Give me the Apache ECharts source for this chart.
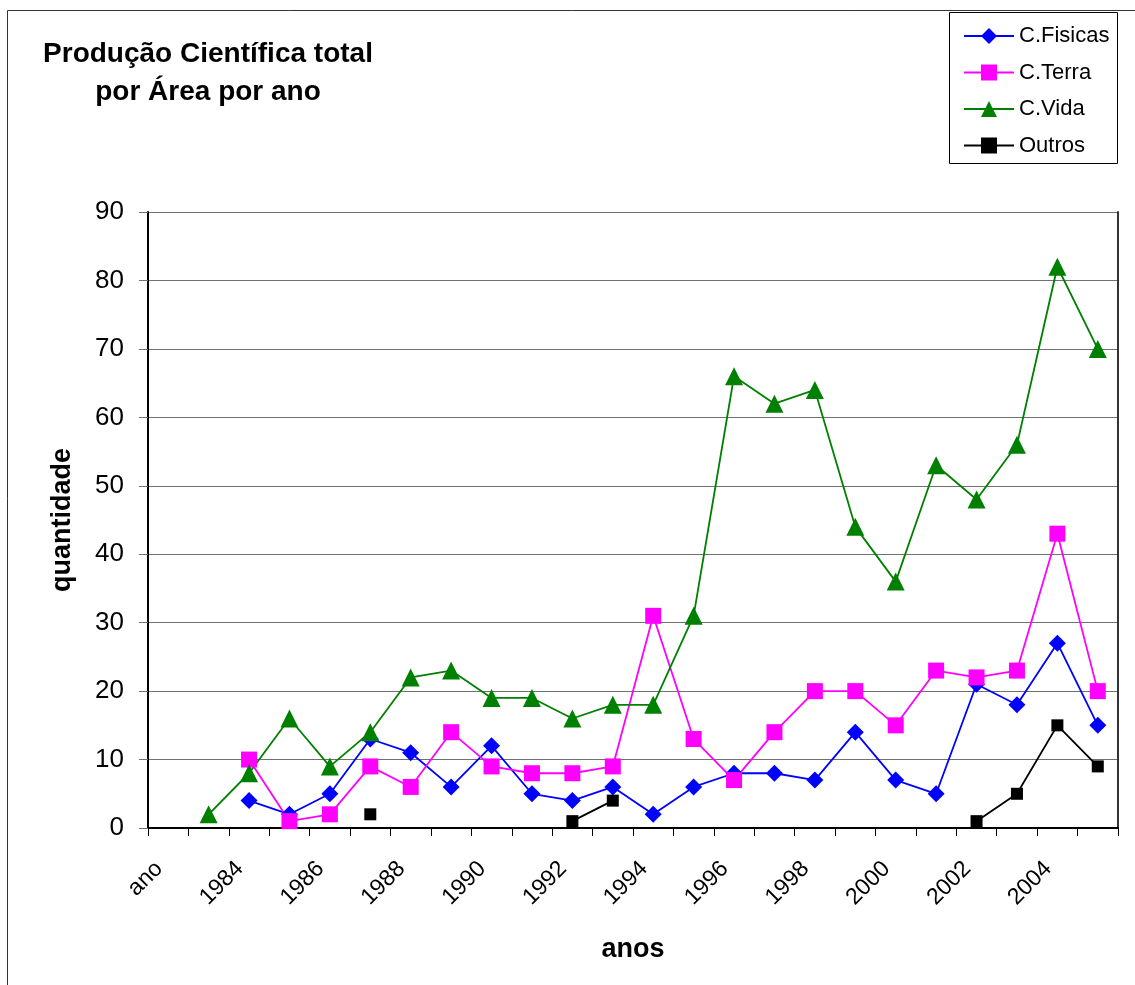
<!DOCTYPE html>
<html>
<head>
<meta charset="utf-8">
<title>Produção Científica total por Área por ano</title>
<script src="https://cdn.jsdelivr.net/npm/echarts@6/dist/echarts.min.js"></script>
<style>
  html, body { margin: 0; padding: 0; background: #fff; }
  #chart { width: 1135px; height: 985px; }
</style>
</head>
<body>
<div id="chart"></div>
<script>
// Categorias do eixo x (a primeira é o cabeçalho da coluna "ano")
const anos = ['ano', '1983', '1984', '1985', '1986', '1987', '1988', '1989', '1990',
  '1991', '1992', '1993', '1994', '1995', '1996', '1997', '1998', '1999', '2000',
  '2001', '2002', '2003', '2004', '2005'];

// Produção por área e por ano (null = sem publicação registada)
const cFisicas = [null, null, 4, 2, 5, 13, 11, 6, 12, 5, 4, 6, 2, 6, 8, 8, 7, 14, 7, 5, 21, 18, 27, 15];
const cTerra   = [null, null, 10, 1, 2, 9, 6, 14, 9, 8, 8, 9, 31, 13, 7, 14, 20, 20, 15, 23, 22, 23, 43, 20];
const cVida    = [null, 2, 8, 16, 9, 14, 22, 23, 19, 19, 16, 18, 18, 31, 66, 62, 64, 44, 36, 53, 48, 56, 82, 70];
const outros   = [null, null, null, null, null, 2, null, null, null, null, 1, 4, null, null, null, null, null, null, null, null, 1, 5, 15, 9];

const FONT = "'Liberation Sans', Arial, sans-serif";

const chart = echarts.init(document.getElementById('chart'), null, { renderer: 'canvas' });

function serie(name, data, color, symbol, size) {
  return {
    name: name,
    type: 'line',
    data: data,
    xAxisIndex: 0,
    yAxisIndex: 0,
    symbol: symbol,
    symbolSize: size,
    showSymbol: true,
    showAllSymbol: true,
    connectNulls: false,
    animation: false,
    lineStyle: { color: color, width: 1.8 },
    itemStyle: { color: color, borderWidth: 0 },
    emphasis: { disabled: true }
  };
}

chart.setOption({
  backgroundColor: '#fff',
  animation: false,
  title: {
    text: 'Produção Científica total\npor Área por ano',
    left: 203,
    top: 30,
    textAlign: 'center',
    textStyle: {
      fontFamily: FONT,
      fontSize: 28,
      fontWeight: 'bold',
      color: '#000',
      lineHeight: 38,
      align: 'center'
    }
  },
  legend: {
    orient: 'vertical',
    left: 958,
    top: 20,
    itemWidth: 50,
    itemHeight: 20,
    itemGap: 14.5,
    textStyle: { fontFamily: FONT, fontSize: 22, color: '#000', lineHeight: 20 },
    data: ['C.Fisicas', 'C.Terra', 'C.Vida', 'Outros'],
    selectedMode: false
  },
  graphic: [
    {
      // moldura exterior da área do gráfico
      type: 'rect',
      shape: { x: 7.5, y: 10.5, width: 1200, height: 1100 },
      style: { fill: 'none', stroke: '#333', lineWidth: 1 },
      silent: true
    },
    {
      // caixa da legenda
      type: 'rect',
      shape: { x: 949.5, y: 12.5, width: 168, height: 151 },
      style: { fill: 'none', stroke: '#000', lineWidth: 1 },
      silent: true
    }
  ],
  grid: {
    left: 148,
    right: 17,
    top: 212,
    bottom: 157,
    containLabel: false
  },
  xAxis: [
    {
      type: 'category',
      data: anos,
      boundaryGap: true,
      name: 'anos',
      nameLocation: 'middle',
      nameGap: 108,
      nameTextStyle: { fontFamily: FONT, fontSize: 27, fontWeight: 'bold', color: '#000' },
      axisLine: { show: true, lineStyle: { color: '#000', width: 2 } },
      axisTick: { show: true, interval: 0, length: 8, alignWithLabel: false, lineStyle: { color: '#000', width: 1 } },
      axisLabel: {
        interval: 1,
        rotate: 45,
        margin: 28,
        padding: [0, 13, 0, 0],
        fontFamily: FONT,
        fontSize: 23,
        color: '#000'
      },
      splitLine: { show: false }
    },
    {
      type: 'category',
      data: anos,
      position: 'top',
      axisLine: { show: true, lineStyle: { color: '#000', width: 1.5 } },
      axisTick: { show: false },
      axisLabel: { show: false },
      splitLine: { show: false }
    }
  ],
  yAxis: [
    {
      type: 'value',
      min: 0,
      max: 90,
      interval: 10,
      name: 'quantidade',
      nameLocation: 'middle',
      nameGap: 72,
      nameRotate: 90,
      nameTextStyle: { fontFamily: FONT, fontSize: 27, fontWeight: 'bold', color: '#000' },
      axisLine: { show: true, lineStyle: { color: '#000', width: 2 } },
      axisTick: { show: true, length: 9, inside: false, lineStyle: { color: '#707070', width: 1 } },
      axisLabel: { margin: 24, fontFamily: FONT, fontSize: 26, color: '#000' },
      splitLine: { show: true, lineStyle: { color: '#707070', width: 1 } }
    },
    {
      type: 'value',
      min: 0,
      max: 90,
      interval: 10,
      position: 'right',
      axisLine: { show: true, lineStyle: { color: '#333', width: 2 } },
      axisTick: { show: false },
      axisLabel: { show: false },
      splitLine: { show: false }
    }
  ],
  series: [
    serie('C.Fisicas', cFisicas, '#0000FF', 'diamond', 17),
    serie('C.Terra', cTerra, '#FF00FF', 'rect', 16),
    serie('C.Vida', cVida, '#008000', 'triangle', 18),
    serie('Outros', outros, '#000000', 'rect', 12)
  ]
});
</script>
</body>
</html>
